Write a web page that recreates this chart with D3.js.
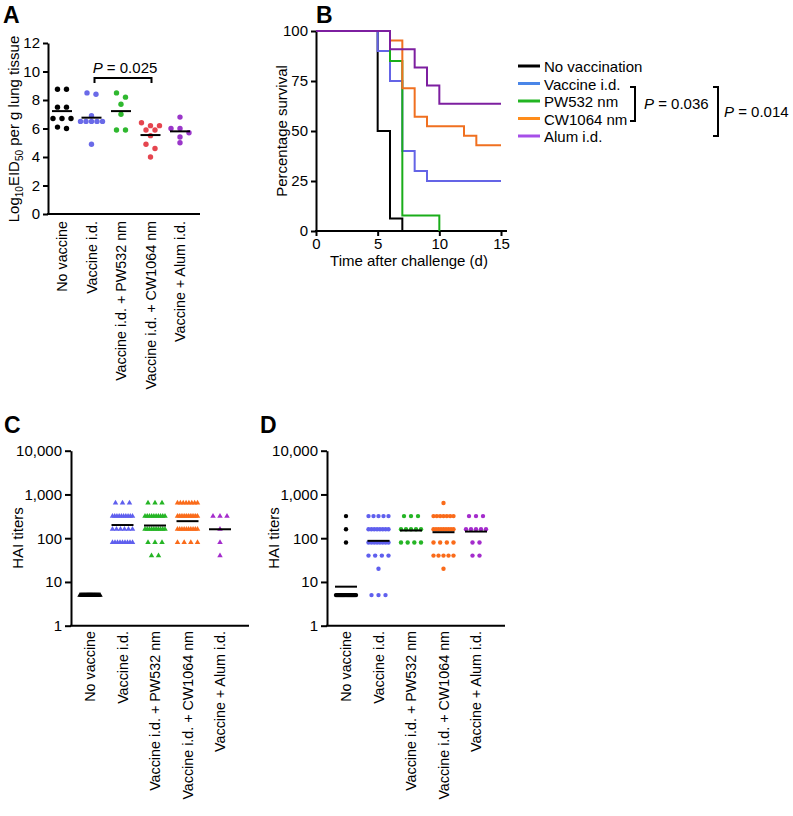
<!DOCTYPE html>
<html><head><meta charset="utf-8">
<script src="https://cdn.jsdelivr.net/npm/d3@7"></script>
<style>
body{margin:0;background:#fff;}
svg text{font-family:"Liberation Sans",Arial,sans-serif;fill:#000;}
</style></head><body>
<svg id="chart" width="793" height="816"></svg>
<script>
// ---------- DATA ----------
const groupCategories = ["No vaccine","Vaccine i.d.","Vaccine i.d. + PW532 nm","Vaccine i.d. + CW1064 nm","Vaccine + Alum i.d."];

// Panel A: Log10 EID50 per g lung tissue
const aNoVaccine = [8.75,8.75,7.5,7.5,6.7,6.7,6.7,6.1,6.0];
const aVaccineId = [8.5,8.4,6.9,6.5,6.5,6.5,6.5,6.5,4.9];
const aPW532 = [8.5,8.2,7.7,7.0,5.9,5.9];
const aCW1064 = [6.4,6.2,6.2,5.9,5.9,5.5,4.9,4.6,4.0];
const aAlum = [6.8,6.0,6.0,5.7,5.4,5.0];
const aMeans = [7.22,6.76,7.22,5.54,5.8];
const aTicks = [0,2,4,6,8,10,12];
const aPLabel = "0.025";

// Panel B: survival curves
const survivalSeries = ["No vaccination","Vaccine i.d.","PW532 nm","CW1064 nm","Alum i.d."];
const bNoVaccTimes = [0,5,6,7];          const bNoVaccSurv = [100,50,6.25,0];
const bVaccTimes = [0,5,6,7,8,9,15];     const bVaccSurv = [100,90,75,40,30,25,25];
const bPWTimes = [0,6,7,10];             const bPWSurv = [100,85,7.7,0];
const bCWTimes = [0,6,7,8,9,12,13,15];   const bCWSurv = [100,95.2,71.4,57.1,52.4,47.6,42.9,42.9];
const bAlumTimes = [0,6,8,9,10,15];      const bAlumSurv = [100,90.9,81.8,72.7,63.6,63.6];
const bXTicks = [0,5,10,15];
const bYTicks = [0,25,50,75,100];
const bPLabels = ["0.036","0.014"];

// Panel C: HAI titers (triangles)
const cNoVaccine = Array(20).fill(5);
const cVaccineId = [640,640,640, 320,320,320,320,320,320,320,320,320,320, 160,160,160,160,160,160, 80,80,80,80,80,80,80,80,80];
const cPW532 = [640,640,640, 320,320,320,320,320,320,320,320,320,320, 160,160,160,160,160,160,160,160,160,160, 80,80,80, 40,40];
const cCW1064 = [640,640,640,640,640,640,640,640, 320,320,320,320,320,320,320,320,320,320,320,320, 160,160,160,160,160,160,160,160,160,160, 80,80,80,80];
const cAlum = [320,320,320,160,80,40];
const cMeans = [5,200,195,245,160];

// Panel D: HAI titers (circles)
const dNoVaccine = [320,160,80].concat(Array(19).fill(5));
const dVaccineId = [320,320,320,320,320, 160,160,160,160,160,160,160,160, 80,80,80,80,80,80,80,80, 40,40,40,40, 20, 5,5,5];
const dPW532 = [320,320,320, 160,160,160,160,160, 80,80,80,80];
const dCW1064 = [640, 320,320,320,320,320,320,320, 160,160,160,160,160,160,160,160,160, 80,80,80,80, 40,40,40,40,40, 20];
const dAlum = [320,320,320, 160,160,160,160,160, 80,80, 40,40];
const dMeans = [7.8,87,150,137,142];
const logTicks = [1,10,100,1000,10000];

// colours
const aColors = ["#000000","#6a6ae8","#2fb82f","#e5454f","#9a36c9"];
const cdColors = ["#000000","#5f5fee","#25b525","#fa6b1a","#a42ccc"];
const bCurveColors = ["#000000","#6464e6","#1aad1a","#f07020","#7d1fa0"];
const bLegendColors = ["#000000","#4a86e8","#22b522","#ff8c1a","#a64fe8"];

// ---------- DRAW ----------
const svg = d3.select("#chart");
const FS = 15;
const CAT_FS = 14.3;

function swarm(values, cx, y, o){
  const pts = values.map(v=>({v:v, y:y(v)})).sort((a,b)=>a.y-b.y);
  const groups=[];
  pts.forEach(p=>{const g=groups[groups.length-1]; if(g && Math.abs(p.y-g[0].y)<=o.tol) g.push(p); else groups.push([p]);});
  groups.forEach(g=>{const n=g.length; const s=n>1?Math.min(o.spacing,o.maxWidth/(n-1)):0; g.forEach((p,i)=>p.x=cx+(i-(n-1)/2)*s);});
  return pts;
}

function styleAxis(g){
  g.selectAll(".domain").attr("stroke","#000").attr("stroke-width",2);
  g.selectAll(".tick line").attr("stroke","#000").attr("stroke-width",2);
  g.selectAll(".tick text").attr("font-size",FS).attr("font-family","Liberation Sans, Arial, sans-serif").attr("fill","#000");
}

function panelLabel(t,x,y){
  svg.append("text").attr("x",x).attr("y",y).attr("font-size",23).attr("font-weight","bold").text(t);
}

function categoryLabels(x, yTop){
  svg.append("g").selectAll("text").data(groupCategories).join("text")
    .attr("transform",d=>`translate(${x(d)},${yTop}) rotate(-90)`)
    .attr("text-anchor","end").attr("dy","0.36em").attr("font-size",CAT_FS).text(d=>d);
}

// ===== Panel A =====
panelLabel("A",3,23);
const xA = d3.scalePoint().domain(groupCategories).range([62,180]);
const yA = d3.scaleLinear().domain([0,12]).range([214,43]);
const gAy = svg.append("g").attr("transform","translate(48,0)")
  .call(d3.axisLeft(yA).tickValues(aTicks).tickSize(5).tickSizeOuter(0).tickPadding(3));
styleAxis(gAy);
svg.append("line").attr("x1",47).attr("x2",200).attr("y1",yA(0)).attr("y2",yA(0)).attr("stroke","#000").attr("stroke-width",2);
categoryLabels(xA, 221);
const aGroups = [aNoVaccine,aVaccineId,aPW532,aCW1064,aAlum];
aGroups.forEach((vals,i)=>{
  const pts = swarm(vals, xA(groupCategories[i]), yA, {tol:5, spacing:9, maxWidth:22});
  svg.append("g").selectAll("circle").data(pts).join("circle")
    .attr("cx",d=>d.x).attr("cy",d=>d.y).attr("r",2.7).attr("fill",aColors[i]);
  const cx = xA(groupCategories[i]);
  svg.append("line").attr("x1",cx-10).attr("x2",cx+10).attr("y1",yA(aMeans[i])).attr("y2",yA(aMeans[i])).attr("stroke","#000").attr("stroke-width",2);
});
// y label A
const aYL = svg.append("text").attr("transform",`translate(19,129) rotate(-90)`).attr("text-anchor","middle").attr("font-size",FS);
aYL.append("tspan").text("Log");
aYL.append("tspan").attr("font-size",10).attr("dy",4).text("10");
aYL.append("tspan").attr("dy",-4).text("EID");
aYL.append("tspan").attr("font-size",10).attr("dy",4).text("50");
aYL.append("tspan").attr("dy",-4).text(" per g lung tissue");
// P bracket A
{
  const x1 = xA(groupCategories[1])+3, x2 = xA(groupCategories[3])+1, yb = 78;
  svg.append("path").attr("d",`M${x1},${yb+5}V${yb}H${x2}V${yb+5}`).attr("fill","none").attr("stroke","#000").attr("stroke-width",2);
  const t = svg.append("text").attr("x",(x1+x2)/2+2).attr("y",yb-5).attr("text-anchor","middle").attr("font-size",FS);
  t.append("tspan").attr("font-style","italic").text("P");
  t.append("tspan").text(" = "+aPLabel);
}

// ===== Panel B =====
panelLabel("B",316,23);
const xB = d3.scaleLinear().domain([0,15]).range([316,501]);
const yB = d3.scaleLinear().domain([0,100]).range([231,31]);
const gBx = svg.append("g").attr("transform",`translate(0,${yB(0)})`)
  .call(d3.axisBottom(xB).tickValues(bXTicks).tickSize(5).tickSizeOuter(0).tickPadding(2));
gBx.select(".domain").attr("d",`M${xB(0)-1},0H507`);
styleAxis(gBx);
const gBy = svg.append("g").attr("transform",`translate(${xB(0)},0)`)
  .call(d3.axisLeft(yB).tickValues(bYTicks).tickSize(5).tickSizeOuter(0).tickPadding(3));
styleAxis(gBy);
svg.append("text").attr("x",409).attr("y",266).attr("text-anchor","middle").attr("font-size",FS).text("Time after challenge (d)");
svg.append("text").attr("transform","translate(287,131) rotate(-90)").attr("text-anchor","middle").attr("font-size",FS).text("Percentage survival");
const bSeries = [[bNoVaccTimes,bNoVaccSurv],[bVaccTimes,bVaccSurv],[bPWTimes,bPWSurv],[bCWTimes,bCWSurv],[bAlumTimes,bAlumSurv]];
const stepLine = d3.line().x(d=>xB(d[0])).y(d=>yB(d[1])).curve(d3.curveStepAfter);
bSeries.forEach((s,i)=>{
  const pts = s[0].map((t,j)=>[t,s[1][j]]);
  svg.append("path").attr("d",stepLine(pts)).attr("fill","none").attr("stroke",bCurveColors[i]).attr("stroke-width",2);
});
// legend
survivalSeries.forEach((name,i)=>{
  const y = 66 + i*17.5;
  svg.append("line").attr("x1",518).attr("x2",540).attr("y1",y).attr("y2",y).attr("stroke",bLegendColors[i]).attr("stroke-width",3);
  svg.append("text").attr("x",544).attr("y",y).attr("dy","0.4em").attr("font-size",FS).text(name);
});
function pBracket(x, y1, y2, tx, ty, label){
  svg.append("path").attr("d",`M${x-5},${y1}H${x}V${y2}H${x-5}`).attr("fill","none").attr("stroke","#000").attr("stroke-width",2);
  const t = svg.append("text").attr("x",tx).attr("y",ty).attr("dy","0.36em").attr("font-size",FS);
  t.append("tspan").attr("font-style","italic").text("P");
  t.append("tspan").text(" = "+label);
}
pBracket(635, 87, 121, 644, 103.5, bPLabels[0]);
pBracket(718, 87, 136, 724, 112, bPLabels[1]);

// ===== Panels C & D =====
function hai(label, lx, axisX, axisEnd, groups, means, colors, symbol){
  panelLabel(label, lx, 433);
  const x = d3.scalePoint().domain(groupCategories).range([axisX+19, axisX+149]);
  const y = d3.scaleLog().domain([1,10000]).range([625.7,450.7]);
  const gy = svg.append("g").attr("transform",`translate(${axisX},0)`)
    .call(d3.axisLeft(y).tickValues(logTicks).tickFormat(d3.format(",")).tickSize(6).tickSizeOuter(0).tickPadding(3));
  styleAxis(gy);
  svg.append("line").attr("x1",axisX-1).attr("x2",axisEnd).attr("y1",y(1)).attr("y2",y(1)).attr("stroke","#000").attr("stroke-width",2);
  svg.append("text").attr("transform",`translate(${axisX-48},538) rotate(-90)`).attr("text-anchor","middle").attr("font-size",FS).text("HAI titers");
  categoryLabels(x, 631);
  groups.forEach((vals,i)=>{
    const cx = x(groupCategories[i]);
    const pts = swarm(vals, cx, y, {tol:1, spacing:7, maxWidth:20});
    const g = svg.append("g");
    if(symbol==="triangle"){
      g.selectAll("path").data(pts).join("path")
        .attr("transform",d=>`translate(${d.x},${d.y})`)
        .attr("d",d3.symbol(d3.symbolTriangle,13)()).attr("fill",colors[i]);
    } else {
      g.selectAll("circle").data(pts).join("circle")
        .attr("cx",d=>d.x).attr("cy",d=>d.y).attr("r",2.2).attr("fill",colors[i]);
    }
    svg.append("line").attr("x1",cx-11).attr("x2",cx+11).attr("y1",y(means[i])).attr("y2",y(means[i])).attr("stroke","#000").attr("stroke-width",2);
  });
}
hai("C", 4, 71, 249, [cNoVaccine,cVaccineId,cPW532,cCW1064,cAlum], cMeans, cdColors, "triangle");
hai("D", 260, 327, 505, [dNoVaccine,dVaccineId,dPW532,dCW1064,dAlum], dMeans, cdColors, "circle");
</script>
</body></html>
